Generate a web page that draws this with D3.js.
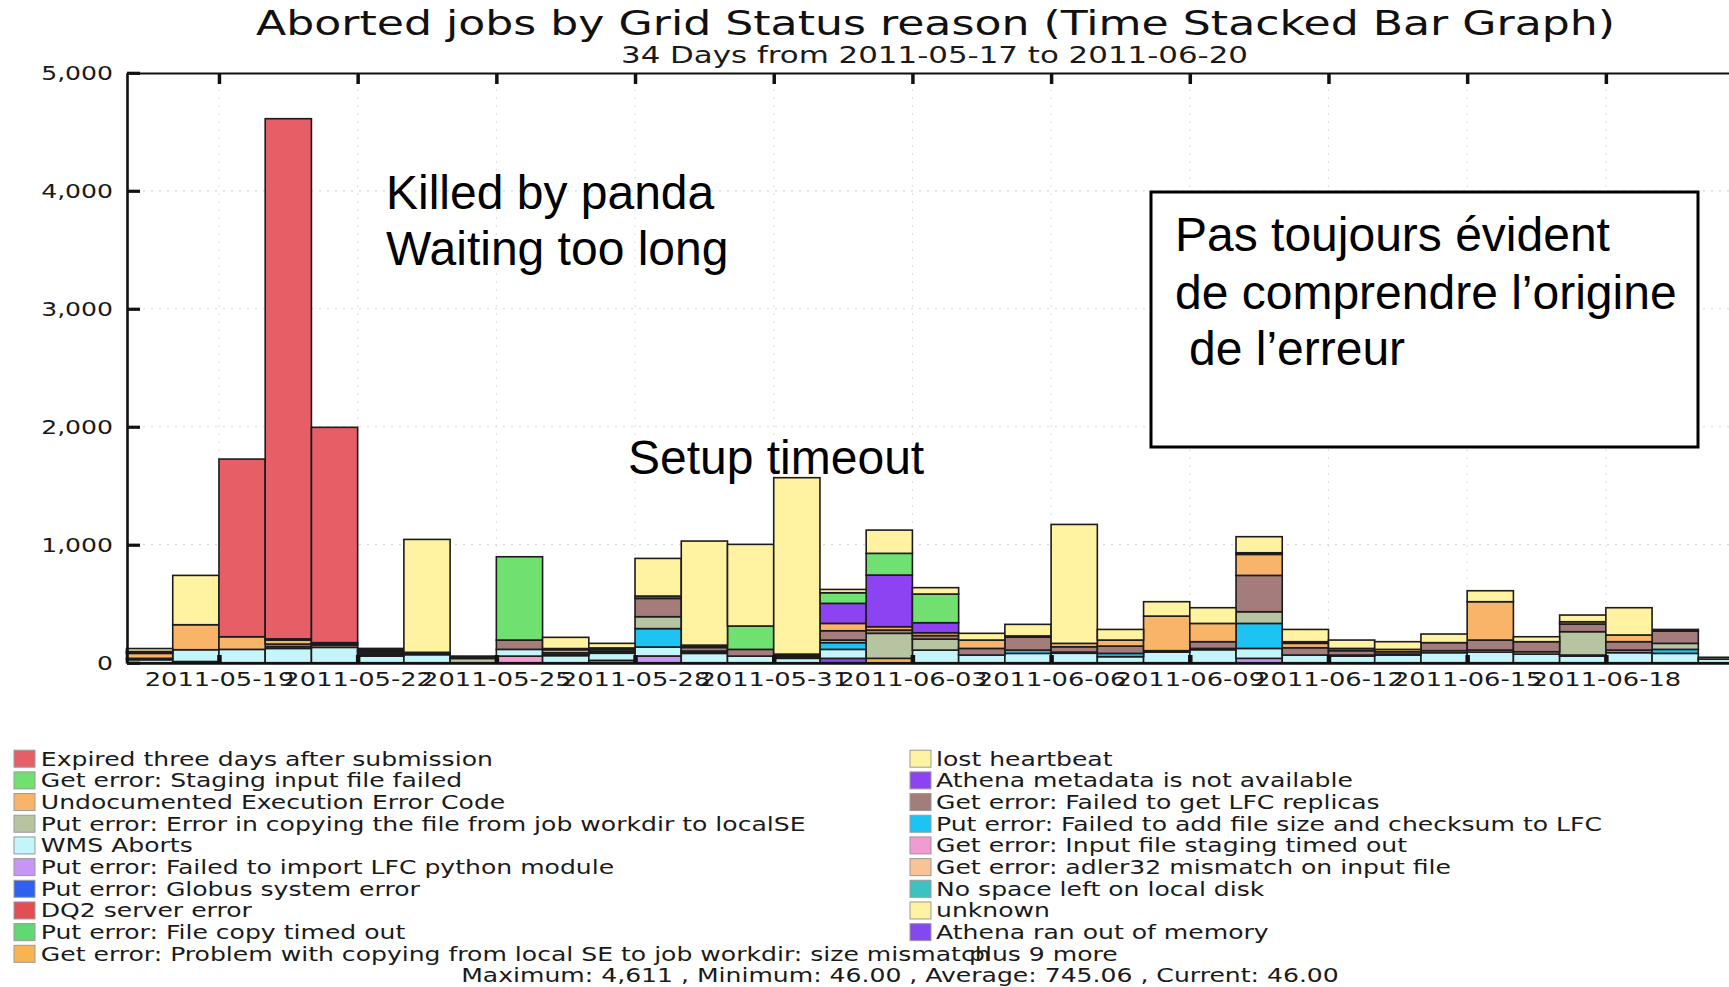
<!DOCTYPE html>
<html><head><meta charset="utf-8">
<script src="https://cdn.jsdelivr.net/npm/d3@7"></script>
<style>body{margin:0;background:#fff;}svg{display:block;}</style>
</head><body>
<svg id="chart" width="1729" height="987"></svg>
<script>
// ---------- DATA ----------
const days = ["2011-05-17","2011-05-18","2011-05-19","2011-05-20","2011-05-21","2011-05-22","2011-05-23","2011-05-24","2011-05-25","2011-05-26","2011-05-27","2011-05-28","2011-05-29","2011-05-30","2011-05-31","2011-06-01","2011-06-02","2011-06-03","2011-06-04","2011-06-05","2011-06-06","2011-06-07","2011-06-08","2011-06-09","2011-06-10","2011-06-11","2011-06-12","2011-06-13","2011-06-14","2011-06-15","2011-06-16","2011-06-17","2011-06-18","2011-06-19","2011-06-20"];
const xTickDays = ["2011-05-19","2011-05-22","2011-05-25","2011-05-28","2011-05-31","2011-06-03","2011-06-06","2011-06-09","2011-06-12","2011-06-15","2011-06-18"];
const yTicks = [0,1000,2000,3000,4000,5000];

const seriesNames = [
 "Expired three days after submission",
 "lost heartbeat",
 "Get error: Staging input file failed",
 "Athena metadata is not available",
 "Undocumented Execution Error Code",
 "Get error: Failed to get LFC replicas",
 "Put error: Error in copying the file from job workdir to localSE",
 "Put error: Failed to add file size and checksum to LFC",
 "WMS Aborts",
 "Get error: Input file staging timed out",
 "Put error: Failed to import LFC python module",
 "Get error: adler32 mismatch on input file",
 "Put error: Globus system error",
 "No space left on local disk",
 "DQ2 server error",
 "unknown",
 "Put error: File copy timed out",
 "Athena ran out of memory",
 "Get error: Problem with copying from local SE to job workdir: size mismatch"
];

const expired        = [0,0,1506,4409,1825,0,0,0,0,0,0,0,0,0,0,0,0,0,0,0,0,0,0,0,0,0,0,0,0,0,0,0,0,0,0];
const lostHeartbeat  = [25,418,0,0,0,0,957,0,0,95,39,319,882,692,1495,28,197,54,57,98,1008,90,122,133,136,104,71,65,73,93,42,57,231,0,0];
const stagingFailed  = [8,0,0,0,10,10,0,0,706,0,0,0,0,198,0,90,184,243,0,0,0,0,0,0,0,0,0,0,0,0,0,0,0,0,0];
const athenaMetadata = [8,0,0,10,10,10,0,10,0,10,0,20,10,0,0,170,438,85,0,11,0,0,0,0,14,14,19,0,0,0,0,0,0,14,0];
const undocumented   = [42,212,107,34,0,10,0,0,0,25,10,0,10,0,12,62,28,24,71,0,29,51,293,155,178,37,0,20,0,325,0,19,57,0,0];
const lfcReplicas    = [12,0,0,22,20,15,10,10,79,15,15,155,30,57,12,79,28,30,56,109,45,62,0,57,308,62,37,20,68,85,85,65,71,104,0];
const putCopying     = [0,0,0,15,0,10,0,36,0,10,10,101,10,0,12,22,212,93,0,0,10,0,12,11,99,0,9,8,17,17,20,198,0,51,16];
const putAddChecksum = [0,0,0,0,0,10,10,0,0,0,10,156,10,0,0,57,0,0,0,28,0,28,0,0,212,0,0,0,0,0,0,9,22,34,0];
const wmsAborts      = [25,100,113,121,130,56,68,0,57,60,60,76,79,56,37,76,0,107,65,79,80,51,90,110,84,65,56,65,85,90,73,56,85,79,30];
const stagingTimeout = [0,0,0,0,0,0,0,0,56,0,0,0,0,0,0,0,0,0,0,0,0,0,0,0,0,0,0,0,0,0,0,0,0,0,0];
const lfcPython      = [0,10,0,0,0,0,0,0,0,0,0,57,0,0,0,0,0,0,0,0,0,0,0,0,37,0,0,0,0,0,0,0,0,0,0];
const adler32        = [0,0,0,0,0,0,0,0,0,0,0,0,0,0,0,0,0,0,0,0,0,0,0,0,0,0,0,0,0,0,0,0,0,0,0];
const globusError    = [0,0,0,0,0,0,0,0,0,0,0,0,0,0,0,0,0,0,0,0,0,0,0,0,0,0,0,0,0,0,0,0,0,0,0];
const noSpace        = [0,0,0,0,0,0,0,0,0,0,20,0,0,0,0,0,0,0,0,0,0,0,0,0,0,0,0,0,0,0,0,0,0,0,0];
const dq2Error       = [0,0,0,0,0,0,0,0,0,0,0,0,0,0,0,0,0,0,0,0,0,0,0,0,0,0,0,0,0,0,0,0,0,0,0];
const unknownReason  = [0,0,0,0,0,0,0,0,0,0,0,0,0,0,0,0,0,0,0,0,0,0,0,0,0,0,0,0,0,0,0,0,0,0,0];
const fileCopyTimeout= [0,0,0,0,0,0,0,0,0,0,0,0,0,0,0,0,0,0,0,0,0,0,0,0,0,0,0,0,0,0,0,0,0,0,0];
const athenaMemory   = [0,0,0,0,0,0,0,0,0,0,0,0,0,0,0,37,0,0,0,0,0,0,0,0,0,0,0,0,0,0,0,0,0,0,0];
const sizeMismatch   = [0,0,0,0,0,0,0,0,0,0,0,0,0,0,0,0,37,0,0,0,0,0,0,0,0,0,0,0,0,0,0,0,0,0,0];

const seriesValues = [expired,lostHeartbeat,stagingFailed,athenaMetadata,undocumented,lfcReplicas,putCopying,putAddChecksum,wmsAborts,stagingTimeout,lfcPython,adler32,globusError,noSpace,dq2Error,unknownReason,fileCopyTimeout,athenaMemory,sizeMismatch];

const statsText = "Maximum: 4,611 , Minimum: 46.00 , Average: 745.06 , Current: 46.00";
const titleText = "Aborted jobs by Grid Status reason (Time Stacked Bar Graph)";
const subtitleText = "34 Days from 2011-05-17 to 2011-06-20";

// ---------- STYLE ----------
const seriesColors = ["#e65f66","#fff2a0","#70e070","#8c44f2","#f8b468","#a57c7c","#b6c4a2","#1cc3f3","#c4f5fa","#f29ad2","#c596f5","#f8c496","#2f60f2","#3cc2c2","#e24f52","#fff2a0","#62d872","#8448f0","#f8b452"];
const SX = 1.32; // horizontal stretch of the original picture
const parse = d3.utcParse("%Y-%m-%d");
const svg = d3.select("#chart");
const FONT = "DejaVu Sans, sans-serif";

const x = d3.scaleUtc().domain([parse("2011-05-17"), parse("2011-06-21")]).range([126.5, 126.5 + 35*46.23]);
const y = d3.scaleLinear().domain([0,5000]).range([662.7, 72.8]);

function stretch(sel){
  sel.each(function(){
    const w = this.getComputedTextLength();
    d3.select(this).attr("textLength", w*SX).attr("lengthAdjust","spacingAndGlyphs");
  });
}

// grid
const grid = svg.append("g");
grid.selectAll("line.h").data(yTicks.slice(1,5)).join("line")
  .attr("x1",127).attr("x2",1729).attr("y1",d=>y(d)).attr("y2",d=>y(d))
  .attr("stroke","#d8d8d8").attr("stroke-width",1.2).attr("stroke-dasharray","2,6");
grid.selectAll("line.v").data(xTickDays).join("line")
  .attr("x1",d=>x(parse(d))).attr("x2",d=>x(parse(d))).attr("y1",73).attr("y2",663)
  .attr("stroke","#e2e2e2").attr("stroke-width",1.2).attr("stroke-dasharray","2,6");

// stacked bars
const table = days.map((d,i)=>({date:parse(d), vals: seriesValues.map(s=>s[i])}));
const keys = d3.range(seriesValues.length).reverse(); // bottom -> top
const stacked = d3.stack().keys(keys).value((d,k)=>d.vals[k])(table);
const bars = svg.append("g");
stacked.forEach(layer=>{
  const k = layer.key;
  bars.append("g").attr("fill", seriesColors[k])
    .selectAll("rect").data(layer.filter(p=>p[1]-p[0]>0)).join("rect")
    .attr("x", p=>x(p.data.date))
    .attr("width", p=>x(d3.utcDay.offset(p.data.date,1)) - x(p.data.date))
    .attr("y", p=>y(p[1]))
    .attr("height", p=>y(p[0]) - y(p[1]))
    .attr("stroke","#1c1c1c").attr("stroke-width",1.6);
});

// axes
const yAxis = svg.append("g").attr("transform","translate(127,0)")
  .call(d3.axisLeft(y).tickValues(yTicks).tickFormat(d3.format(",")).tickSizeInner(-13).tickSizeOuter(0).tickPadding(14));
yAxis.select(".domain").attr("stroke","#111").attr("stroke-width",2.6);
yAxis.selectAll(".tick line").attr("stroke","#111").attr("stroke-width",3.2);
yAxis.selectAll("text").attr("font-family",FONT).attr("font-size",19).attr("fill","#1a1a1a").attr("dy","0.36em").call(stretch);

const topAxis = svg.append("g").attr("transform","translate(0,73)")
  .call(d3.axisTop(x).tickValues(xTickDays.map(parse)).tickFormat("").tickSizeInner(-11).tickSizeOuter(0));
topAxis.select(".domain").attr("stroke","#111").attr("stroke-width",2.2);
topAxis.selectAll(".tick line").attr("stroke","#111").attr("stroke-width",3.5);

const botAxis = svg.append("g").attr("transform","translate(0,663)")
  .call(d3.axisBottom(x).tickValues(xTickDays.map(parse)).tickFormat(d3.utcFormat("%Y-%m-%d")).tickSizeInner(-8).tickSizeOuter(0).tickPadding(9));
botAxis.select(".domain").attr("stroke","#111").attr("stroke-width",2.4);
botAxis.selectAll(".tick line").attr("stroke","#111").attr("stroke-width",4.5);
botAxis.selectAll("text").attr("font-family",FONT).attr("font-size",19.5).attr("fill","#1a1a1a").call(stretch);

// titles
svg.append("text").attr("x",935.5).attr("y",35).attr("text-anchor","middle")
  .attr("font-family",FONT).attr("font-size",34).attr("fill","#111").text(titleText)
  .attr("textLength",1359).attr("lengthAdjust","spacingAndGlyphs");
svg.append("text").attr("x",934.5).attr("y",62.5).attr("text-anchor","middle")
  .attr("font-family",FONT).attr("font-size",22.5).attr("fill","#1a1a1a").text(subtitleText)
  .attr("textLength",627).attr("lengthAdjust","spacingAndGlyphs");

// legend
const legend = svg.append("g");
seriesNames.forEach((name,r)=>{
  const col = r%2, row = Math.floor(r/2);
  const sx = col===0 ? 14 : 910;
  const tx = col===0 ? 40.8 : 936;
  const cy = 758.7 + row*21.68;
  legend.append("rect").attr("x",sx).attr("y",cy-8.5).attr("width",21).attr("height",17)
    .attr("fill",seriesColors[r]).attr("stroke","#9a9a9a").attr("stroke-width",1);
  legend.append("text").attr("x",tx).attr("y",cy+7).attr("font-family",FONT).attr("font-size",19)
    .attr("fill","#1a1a1a").text(name).call(stretch);
});
legend.append("text").attr("x",969).attr("y",758.7+9*21.68+7).attr("font-family",FONT).attr("font-size",19)
  .attr("fill","#1a1a1a").text("plus 9 more").call(stretch);
svg.append("text").attr("x",900).attr("y",982).attr("text-anchor","middle").attr("font-family",FONT)
  .attr("font-size",19).attr("fill","#1a1a1a").text(statsText).call(stretch);

// annotations (slide overlay)
const AF = "Liberation Sans, Arial, sans-serif";
const notes = svg.append("g").attr("font-family",AF).attr("font-size",48).attr("fill","#000");
notes.append("text").attr("x",386).attr("y",209).text("Killed by panda");
notes.append("text").attr("x",386).attr("y",265).text("Waiting too long");
notes.append("text").attr("x",628).attr("y",474).text("Setup timeout");
svg.append("rect").attr("x",1151).attr("y",192).attr("width",547).attr("height",255)
  .attr("fill","#fff").attr("stroke","#000").attr("stroke-width",3);
const box = svg.append("g").attr("font-family",AF).attr("font-size",48).attr("fill","#000");
box.append("text").attr("x",1175).attr("y",251).text("Pas toujours évident");
box.append("text").attr("x",1175).attr("y",309).text("de comprendre l’origine");
box.append("text").attr("x",1189).attr("y",365).text("de l’erreur");
</script>
</body></html>
